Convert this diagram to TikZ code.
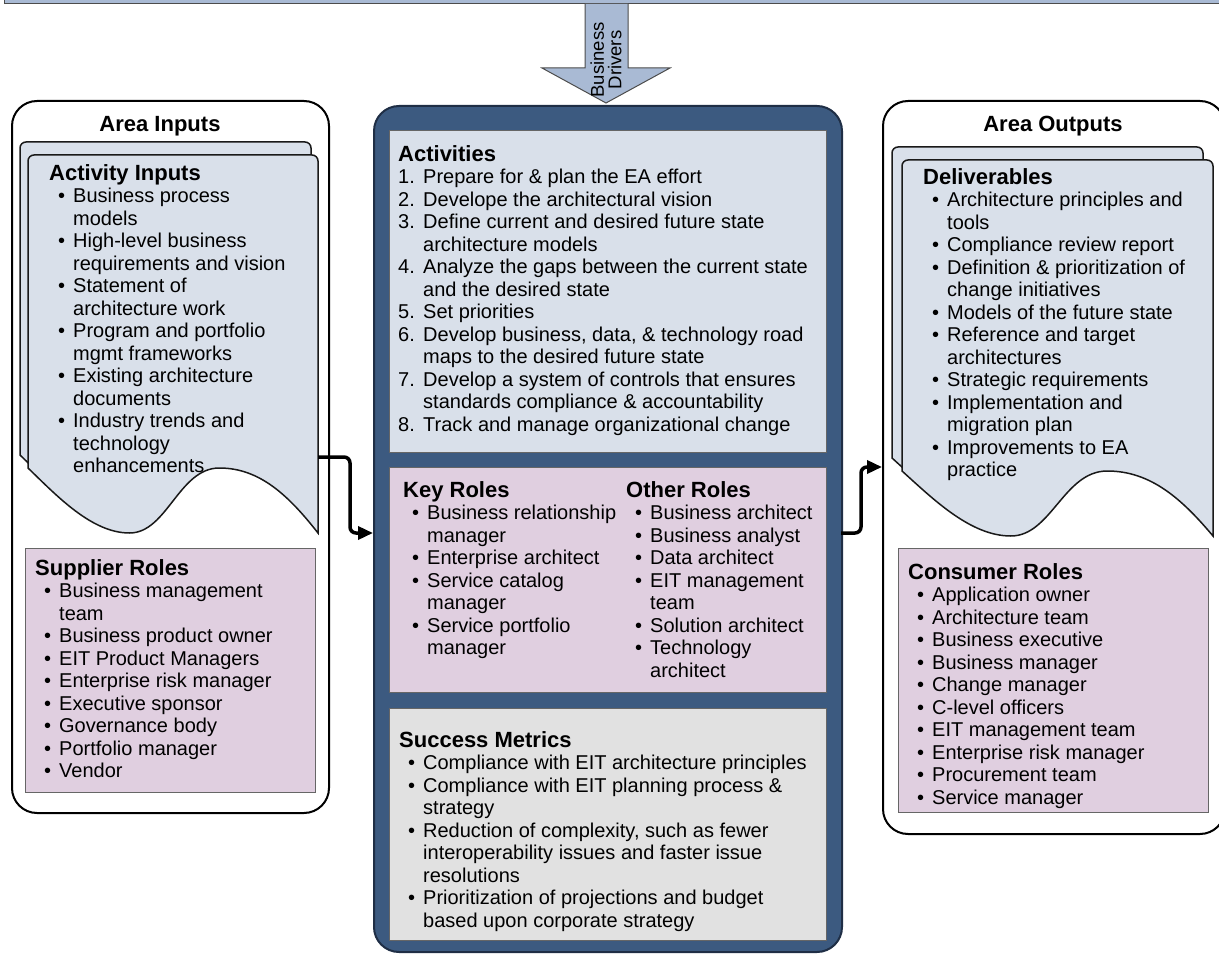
\documentclass[tikz,border=0pt]{standalone}
\usepackage{fontspec}
\setmainfont{Liberation Sans}
\usetikzlibrary{arrows.meta}
\definecolor{barblue}{HTML}{A9BAD4}
\definecolor{navy}{HTML}{3C5A80}
\definecolor{navyline}{HTML}{1F2E45}
\definecolor{docblue}{HTML}{D9E0EA}
\definecolor{rolepink}{HTML}{E0CFE0}
\definecolor{metgray}{HTML}{E1E1E1}
\definecolor{boxline}{HTML}{666666}
\newcommand{\ttl}[1]{{\rule{0pt}{16pt}\fontsize{22}{22.5}\selectfont\bfseries #1}}
\newcommand{\bi}{\hspace*{9pt}\makebox[15pt][l]{\textbullet}}
\newcommand{\ci}{\hspace*{24pt}}
\newcommand{\nb}[1]{\makebox[25pt][l]{#1.}}
\newcommand{\nc}{\hspace*{25pt}}
\newcommand{\docshape}[4]{%
  \pgfmathsetmacro{\dw}{#3}%
  \pgfmathsetmacro{\dh}{#4}%
  \begin{scope}[shift={(#1,#2)}]
    \draw[docsty] (0,\dh) [rounded corners=6pt] -- (0,0) -- (\dw,0) [sharp corners] -- (\dw,{\dh+65})
      .. controls ({0.9*\dw},{\dh+28}) and ({0.8*\dw},\dh) .. ({0.66*\dw},\dh)
      .. controls ({0.52*\dw},\dh) and ({0.48*\dw},{\dh+65}) .. ({0.35*\dw},{\dh+65})
      .. controls ({0.22*\dw},{\dh+65}) and ({0.1*\dw},{\dh+28}) .. (0,\dh) -- cycle;
  \end{scope}}
\tikzset{
  panel/.style={draw=black, line width=2pt, fill=white, rounded corners=25pt, inner sep=0pt, anchor=north west},
  ctrpanel/.style={draw=navyline, line width=2pt, fill=navy, rounded corners=25pt, inner sep=0pt, anchor=north west},
  box/.style={draw=boxline, line width=1.2pt, inner sep=0pt, anchor=north west},
  docsty/.style={draw=black!90, line width=1.5pt, fill=docblue},
  txt/.style={anchor=north west, inner sep=0pt, align=left, font=\fontsize{20}{22.5}\selectfont},
  areattl/.style={anchor=base, inner sep=0pt, font=\fontsize{22}{24}\selectfont\bfseries},
  conn/.style={line width=3.5pt, rounded corners=6pt, -{Triangle[length=15pt,width=13pt]}},
}
\begin{document}
\begin{tikzpicture}[x=1pt,y=-1pt]
\useasboundingbox (0,0) rectangle (1219,955);

% top bar and business drivers arrow
\node[draw=black!70, fill=barblue, line width=1.2pt, minimum width=1240, minimum height=30, inner sep=0pt, anchor=south west] (bar) at (4,4) {};
\fill[barblue] (585,4) -- (585,68) -- (542,68) -- (606,103) -- (670,68) -- (628,68) -- (628,4) -- cycle;
\draw[black!70, line width=1pt] (585,4) -- (585,68) -- (542,68) -- (606,103) -- (670,68) -- (628,68) -- (628,4);
\node[rotate=90, align=center, inner sep=0pt, font=\fontsize{18.5}{17.5}\selectfont] (bd) at (606,60) {Business\\Drivers};

% left panel
\node[panel, minimum width=317, minimum height=712] (inpanel) at (11,100) {};
\node[areattl] (inttl) at (160,132) {Area Inputs};
\docshape{20}{142}{291}{313}
\docshape{28}{155}{290}{313}
\node[txt] (actin) at (49,164) {\ttl{Activity Inputs}\\
\bi Business process\\ \ci models\\
\bi High-level business\\ \ci requirements and vision\\
\bi Statement of\\ \ci architecture work\\
\bi Program and portfolio\\ \ci mgmt frameworks\\
\bi Existing architecture\\ \ci documents\\
\bi Industry trends and\\ \ci technology\\ \ci enhancements};
\node[box, fill=rolepink, minimum width=290, minimum height=244] (supbox) at (25,548) {};
\node[txt] (sup) at (35,559) {\ttl{Supplier Roles}\\
\bi Business management\\ \ci team\\
\bi Business product owner\\
\bi EIT Product Managers\\
\bi Enterprise risk manager\\
\bi Executive sponsor\\
\bi Governance body\\
\bi Portfolio manager\\
\bi Vendor};

% center panel
\node[ctrpanel, minimum width=468, minimum height=846] (ctr) at (373,105) {};
\node[box, fill=docblue, minimum width=437, minimum height=322] (actbox) at (389,130) {};
\node[txt] (act) at (398,145) {\ttl{Activities}\\
\nb{1}Prepare for \& plan the EA effort\\
\nb{2}Develope the architectural vision\\
\nb{3}Define current and desired future state\\ \nc architecture models\\
\nb{4}Analyze the gaps between the current state\\ \nc and the desired state\\
\nb{5}Set priorities\\
\nb{6}Develop business, data, \& technology road\\ \nc maps to the desired future state\\
\nb{7}Develop a system of controls that ensures\\ \nc standards compliance \& accountability\\
\nb{8}Track and manage organizational change};
\node[box, fill=rolepink, minimum width=437, minimum height=225] (rolebox) at (389,467) {};
\node[txt] (key) at (403,481) {\ttl{Key Roles}\\
\bi Business relationship\\ \ci manager\\
\bi Enterprise architect\\
\bi Service catalog\\ \ci manager\\
\bi Service portfolio\\ \ci manager};
\node[txt] (other) at (626,481) {\ttl{Other Roles}\\
\bi Business architect\\
\bi Business analyst\\
\bi Data architect\\
\bi EIT management\\ \ci team\\
\bi Solution architect\\
\bi Technology\\ \ci architect};
\node[box, fill=metgray, minimum width=437, minimum height=232] (metbox) at (389,708) {};
\node[txt] (met) at (399,731) {\ttl{Success Metrics}\\
\bi Compliance with EIT architecture principles\\
\bi Compliance with EIT planning process \&\\ \ci strategy\\
\bi Reduction of complexity, such as fewer\\ \ci interoperability issues and faster issue\\ \ci resolutions\\
\bi Prioritization of projections and budget\\ \ci based upon corporate strategy};

% right panel
\node[panel, minimum width=342, minimum height=733] (outpanel) at (882,100) {};
\node[areattl] (outttl) at (1053,132) {Area Outputs};
\docshape{892}{147}{311}{311}
\docshape{902}{160}{311}{311}
\node[txt] (deliv) at (923,168) {\ttl{Deliverables}\\
\bi Architecture principles and\\ \ci tools\\
\bi Compliance review report\\
\bi Definition \& prioritization of\\ \ci change initiatives\\
\bi Models of the future state\\
\bi Reference and target\\ \ci architectures\\
\bi Strategic requirements\\
\bi Implementation and\\ \ci migration plan\\
\bi Improvements to EA\\ \ci practice};
\node[box, fill=rolepink, minimum width=310, minimum height=264] (conbox) at (898,548) {};
\node[txt] (con) at (908,563) {\ttl{Consumer Roles}\\
\bi Application owner\\
\bi Architecture team\\
\bi Business executive\\
\bi Business manager\\
\bi Change manager\\
\bi C-level officers\\
\bi EIT management team\\
\bi Enterprise risk manager\\
\bi Procurement team\\
\bi Service manager};

% connectors
\coordinate (docout) at (318,457);
\coordinate (ctrin) at (373,533);
\coordinate (ctrout) at (841,533);
\coordinate (outin) at (882,467);
\draw[conn] (docout) -- (350,457) -- (350,533) -- (ctrin);
\draw[conn] (ctrout) -- (861,533) -- (861,467) -- (outin);
\end{tikzpicture}
\end{document}
